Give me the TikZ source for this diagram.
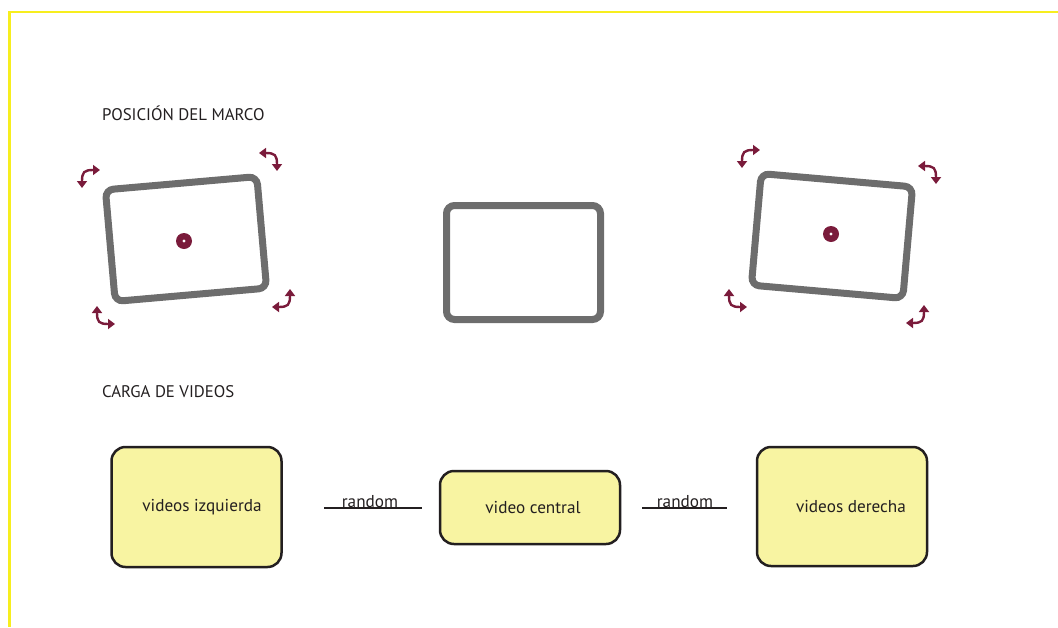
\documentclass[tikz,border=0pt]{standalone}
\usepackage{fontspec}
\setmainfont{PT Sans}
\usetikzlibrary{arrows.meta}
\definecolor{frgray}{HTML}{6D6D6D}
\definecolor{maroon}{HTML}{7A1B3B}
\definecolor{ink}{HTML}{231F20}
\definecolor{boxfill}{HTML}{F8F4A2}
\definecolor{brdyellow}{HTML}{F7EE1E}
\begin{document}
\begin{tikzpicture}[x=1pt,y=-1pt,
  frame/.style={draw=frgray, line width=7pt, rounded corners=8pt,
    minimum width=152pt, minimum height=112pt, inner sep=0pt},
  hub/.style={circle, fill=maroon, minimum size=16pt, inner sep=0pt,
    path picture={\fill[white] (path picture bounding box.center) circle (1.7pt);}},
  vbox/.style={draw=ink, fill=boxfill, line width=2.5pt, rounded corners=14pt,
    inner sep=0pt, font=\fontsize{17.2}{19}\selectfont, text=ink},
  title/.style={anchor=base west, inner sep=0pt, font=\fontsize{16.8}{19}\selectfont, text=ink},
  rnd/.style={anchor=base, inner sep=0pt, font=\fontsize{17.2}{19}\selectfont, text=ink},
  link/.style={draw=ink, line width=2pt},
  rotarr/.pic={\draw[maroon, line width=2.4pt,
      {Triangle[width=10pt,length=7pt]}-{Triangle[width=10pt,length=7pt]}]
      (-7,11) .. controls (-7,-5) and (-5,-7) .. (11,-7);}
]
\useasboundingbox (0,0) rectangle (1058,627);
% yellow border
\draw[brdyellow, line width=2.5pt] (1058,12) -- (9.5,12) -- (9.5,627);

% titles
\node[title] (t1) at (102,120) {POSICIÓN DEL MARCO};
\node[title] (t2) at (102,397) {CARGA DE VIDEOS};

% frames
\node[frame, rotate=5] (f1) at (186,239) {};
\node[frame, minimum width=154pt, minimum height=114pt] (f2) at (523.5,262.5) {};
\node[frame, rotate=-5] (f3) at (832,236) {};
\node[hub] (h1) at (184,241) {};
\node[hub] (h3) at (831,234) {};

% rotation arrows, left frame
\pic at (89,177) {rotarr};
\pic[rotate=-90] at (270,160) {rotarr};
\pic[rotate=90] at (104,317) {rotarr};
\pic[rotate=180] at (283,300) {rotarr};
% rotation arrows, right frame
\pic at (749,157) {rotarr};
\pic[rotate=-90] at (929,173) {rotarr};
\pic[rotate=90] at (736,300) {rotarr};
\pic[rotate=180] at (917,316) {rotarr};

% video boxes
\node[vbox, minimum width=170pt, minimum height=120pt] (bl) at (196.5,507) {\hspace*{11pt}videos izquierda};
\node[vbox, minimum width=180pt, minimum height=73pt] (bc) at (530,507.5) {\hspace*{6pt}video central};
\node[vbox, minimum width=170pt, minimum height=119pt] (br) at (842,506.5) {\hspace*{18pt}videos derecha};

% random links
\coordinate (l1a) at (324,508);
\coordinate (l1b) at (422,508);
\coordinate (l2a) at (642,508);
\coordinate (l2b) at (727,508);
\draw[link] (l1a) -- (l1b);
\draw[link] (l2a) -- (l2b);
\node[rnd] (r1) at (370,507) {random};
\node[rnd] (r2) at (685,507) {random};
\end{tikzpicture}
\end{document}
